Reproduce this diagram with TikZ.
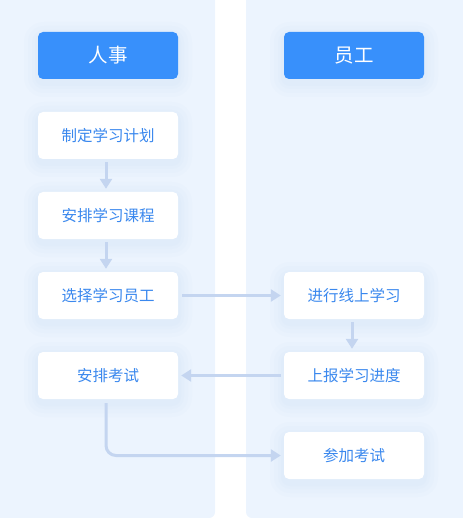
\documentclass[tikz,border=0pt]{standalone}
\usepackage{fontspec}
\setmainfont{Noto Sans CJK SC}
\usetikzlibrary{arrows.meta,calc}
\definecolor{panel}{HTML}{ECF4FE}
\definecolor{hdr}{HTML}{3890FB}
\definecolor{txt}{HTML}{3A88EE}
\definecolor{arr}{HTML}{C4D5F0}
\definecolor{glow}{HTML}{C9DCFA}
\tikzset{
  x=1pt,y=-1pt,
  hdrbox/.style={fill=hdr,rounded corners=5pt,minimum width=140pt,minimum height=47pt,text=white,font=\fontsize{19.5}{22}\selectfont,inner sep=0pt},
  stepbox/.style={fill=white,rounded corners=5pt,minimum width=140pt,minimum height=47pt,text=txt,font=\fontsize{15.5}{18}\selectfont,inner sep=0pt},
  flow/.style={draw=arr,line width=3pt,-{Triangle[length=10pt,width=12pt]},rounded corners=10pt},
}
\begin{document}
\begin{tikzpicture}
\useasboundingbox (0,0) rectangle (462,518);
\fill[panel,rounded corners=6pt] (-10,-10) rectangle (215,518);
\fill[panel,rounded corners=6pt] (246,-10) rectangle (472,518);
% glows
\foreach \p in {{108,55.5},{354,55.5},{108,135.5},{108,215.5},{108,295.5},{108,375.5},{354,295.5},{354,375.5},{354,455.5}}{
  \foreach \g in {14,10,6,3}{
    \fill[glow,opacity=0.08,rounded corners=6pt+\g pt] ($(\p)+(-70-\g,-23.5-\g+4)$) rectangle ($(\p)+(70+\g,23.5+\g+4)$);
  }
}
\node[hdrbox] (hr) at (108,55.5) {人事};
\node[hdrbox] (em) at (354,55.5) {员工};
\node[stepbox] (a) at (108,135.5) {制定学习计划};
\node[stepbox] (b) at (108,215.5) {安排学习课程};
\node[stepbox] (c) at (108,295.5) {选择学习员工};
\node[stepbox] (d) at (108,375.5) {安排考试};
\node[stepbox] (e) at (354,295.5) {进行线上学习};
\node[stepbox] (f) at (354,375.5) {上报学习进度};
\node[stepbox] (g) at (354,455.5) {参加考试};
\draw[flow] ($(a.south)+(-2,3)$) -- ($(b.north)+(-2,-3)$);
\draw[flow] ($(b.south)+(-2,3)$) -- ($(c.north)+(-2,-3)$);
\draw[flow] ($(c.east)+(4,0)$) -- ($(e.west)+(-3,0)$);
\draw[flow] ($(f.west)+(-3,0)$) -- ($(d.east)+(3,0)$);
\draw[flow] ($(e.south)+(-2,3)$) -- ($(f.north)+(-2,-3)$);
\coordinate (dk) at ($(d.south)+(-2,4)$);
\draw[flow] (dk) |- ($(g.west)+(-3,0)$);
\end{tikzpicture}
\end{document}
